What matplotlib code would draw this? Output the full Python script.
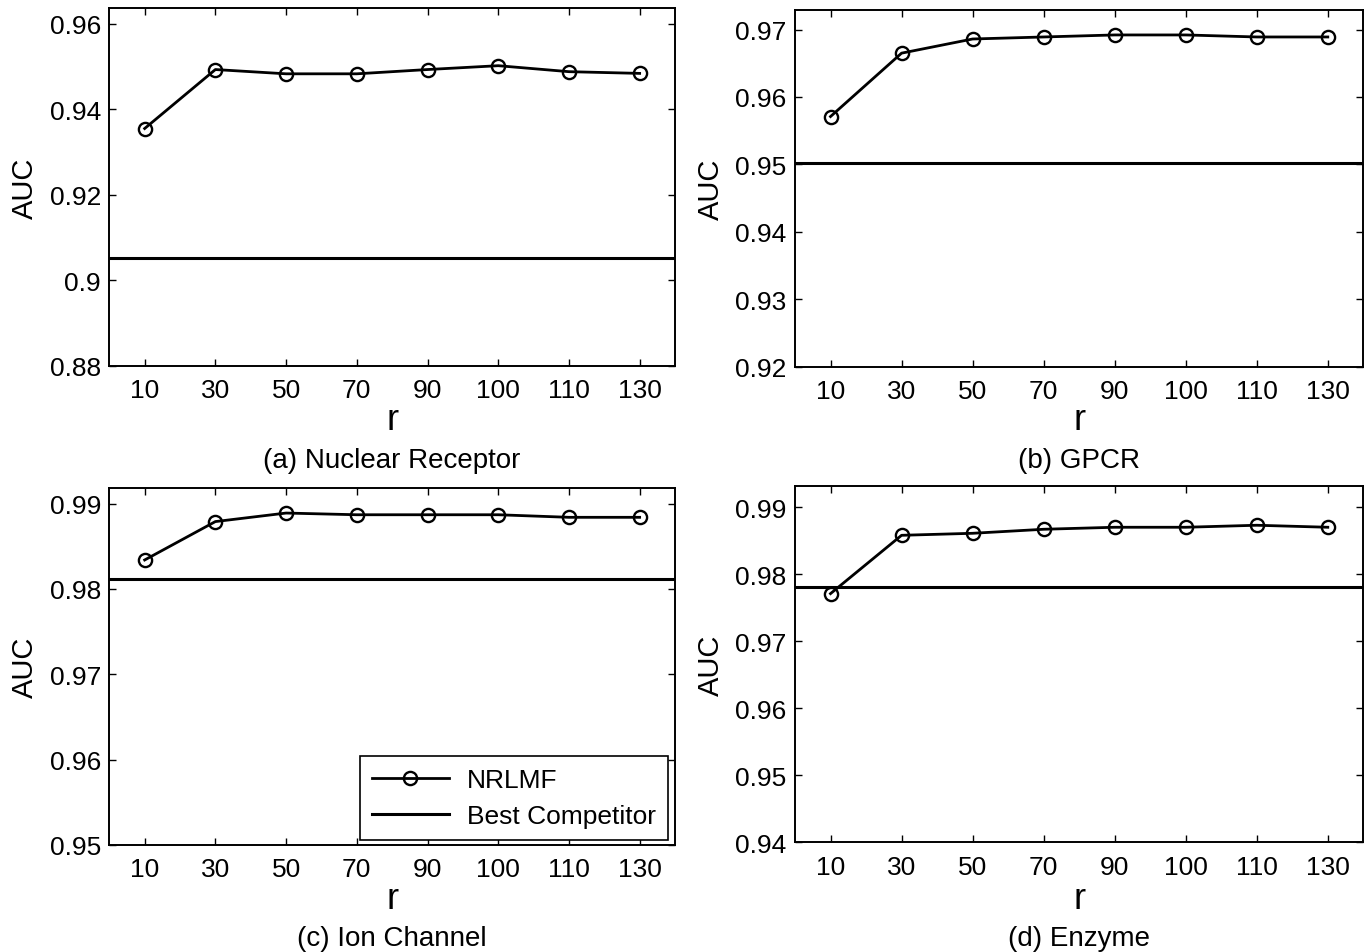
import matplotlib
matplotlib.use("Agg")
import matplotlib.pyplot as plt
from matplotlib.ticker import FuncFormatter
import numpy as np

plt.rcParams['font.family'] = ['Liberation Sans', 'DejaVu Sans']

r_labels = ['10', '30', '50', '70', '90', '100', '110', '130']

nr_auc = [0.9355, 0.9493, 0.9483, 0.9483, 0.9493, 0.9502, 0.9488, 0.9484]
gpcr_auc = [0.9571, 0.9665, 0.9686, 0.9689, 0.9692, 0.9692, 0.9689, 0.9689]
ic_auc = [0.9834, 0.9879, 0.9889, 0.9887, 0.9887, 0.9887, 0.9884, 0.9884]
enz_auc = [0.9771, 0.9858, 0.9861, 0.9867, 0.9870, 0.9870, 0.9873, 0.9870]

best_competitor = [0.9051, 0.9502, 0.9812, 0.9781]

titles = ['(a) Nuclear Receptor', '(b) GPCR', '(c) Ion Channel', '(d) Enzyme']
ylims = [(0.88, 0.9637), (0.92, 0.9729), (0.95, 0.9918), (0.94, 0.9932)]
yticks = [[0.88, 0.90, 0.92, 0.94, 0.96],
          [0.92, 0.93, 0.94, 0.95, 0.96, 0.97],
          [0.95, 0.96, 0.97, 0.98, 0.99],
          [0.94, 0.95, 0.96, 0.97, 0.98, 0.99]]

W, H = 1367, 953
fig = plt.figure(figsize=(W / 100, H / 100), dpi=100)

# axes boxes in pixels: left, top, right, bottom
boxes = [(109.3, 9.0, 675.0, 366.7),
         (795.0, 11.0, 1363.3, 367.7),
         (109.3, 489.3, 675.0, 846.0),
         (795.0, 486.7, 1363.3, 843.3)]
# pixel rows for the x label top and subtitle centre
xlabel_top = [403, 403, 882, 882]
title_y = [461, 461, 939, 939]

series = [nr_auc, gpcr_auc, ic_auc, enz_auc]
x = np.arange(1, len(r_labels) + 1)

fmt = FuncFormatter(lambda v, p: ('%g' % round(v, 4)))

for i, (l, t, rgt, b) in enumerate(boxes):
    w, h = rgt - l, b - t
    ax = fig.add_axes([l / W, 1 - b / H, w / W, h / H])
    ax.plot(x, series[i], color='black', lw=2.0, marker='o', ms=9.5,
            mfc='none', mec='black', mew=1.7, label='NRLMF')
    ax.axhline(best_competitor[i], color='black', lw=2.2, label='Best Competitor')
    ax.set_xlim(0.5, 8.5)
    ax.set_ylim(*ylims[i])
    ax.set_xticks(x)
    ax.set_xticklabels(r_labels)
    ax.set_yticks(yticks[i])
    ax.yaxis.set_major_formatter(fmt)
    ax.tick_params(direction='in', top=True, right=True, length=5, width=1.0,
                   labelsize=19)
    ax.tick_params(axis='x', pad=9)
    ax.tick_params(axis='y', pad=6)
    for s in ax.spines.values():
        s.set_linewidth(1.4)
    ax.set_xlabel('r', fontsize=26)
    ax.set_ylabel('AUC', fontsize=21)
    ax.yaxis.set_label_coords(-70 / w, 0.5)
    ax.xaxis.set_label_coords(0.5, -(xlabel_top[i] - b) / h)
    ax.text(0.5, -(title_y[i] - b) / h, titles[i], transform=ax.transAxes,
            ha='center', va='center', fontsize=20)
    if i == 2:
        leg = ax.legend(loc='lower right', bbox_to_anchor=(1 - 7 / w, 5 / h),
                        borderaxespad=0, fontsize=19, handlelength=2.9,
                        fancybox=False, framealpha=1, edgecolor='black',
                        labelspacing=0.45, borderpad=0.45, handletextpad=0.7)
        leg.get_frame().set_linewidth(1.2)

fig.savefig('out.png', dpi=100)
